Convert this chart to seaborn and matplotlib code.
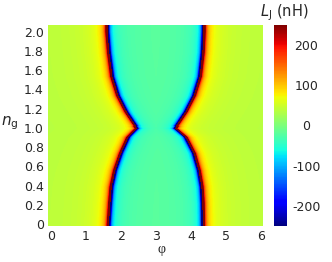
import numpy as np
import pandas as pd
import matplotlib
matplotlib.use("Agg")
import matplotlib.pyplot as plt
import seaborn as sns

# ---- data ----
# gate charge rows where the divergence (pole) positions were read
ng_pts    = [0.00, 0.22, 0.39, 0.56, 0.74, 0.91, 1.00, 1.16, 1.33, 1.53, 1.78, 2.00]
# phase of the left pole (red/blue boundary) and the right pole
phi_left  = [1.65, 1.69, 1.73, 1.83, 2.00, 2.21, 2.45, 2.16, 1.92, 1.75, 1.66, 1.61]
phi_right = [4.33, 4.32, 4.29, 4.21, 4.07, 3.83, 3.54, 3.83, 4.07, 4.24, 4.32, 4.35]
# plateau levels of L_J (nH) outside / inside the poles and pole strengths
L_outside = 32.0
L_inside = -15.0
K_outside = 12.0
K_inside = 8.0

phi_ticks = [0, 1, 2, 3, 4, 5, 6]
ng_ticks = [0, 0.2, 0.4, 0.6, 0.8, 1.0, 1.2, 1.4, 1.6, 1.8, 2.0]
ng_ticklabels = ["0", "0.2", "0.4", "0.6", "0.8", "1.0", "1.2", "1.4", "1.6", "1.8", "2.0"]
cbar_ticks = [-200, -100, 0, 100, 200]
phi_extent = (-0.086, 6.06)
ng_extent = (-0.02, 2.07)
vmin, vmax = -250, 250

# ---- build the map ----
nx, ny = 430, 200
dx = (phi_extent[1] - phi_extent[0]) / nx
dy = (ng_extent[1] - ng_extent[0]) / ny
phi = phi_extent[0] + dx * (np.arange(nx) + 0.5)
ng = ng_extent[0] + dy * (np.arange(ny) + 0.5)
P, G = np.meshgrid(phi, ng)
pL = np.interp(G, ng_pts, phi_left)
pR = np.interp(G, ng_pts, phi_right)
with np.errstate(divide="ignore"):
    L = np.where(P < pL, L_outside + K_outside / np.maximum(pL - P, 1e-6),
        np.where(P > pR, L_outside + K_outside / np.maximum(P - pR, 1e-6),
                 L_inside - K_inside / np.maximum(np.minimum(P - pL, pR - P), 1e-6)))
L = np.clip(L, vmin, vmax)
df = pd.DataFrame(L, index=np.round(ng, 4), columns=np.round(phi, 4))

# ---- figure ----
sns.set_style("white")
plt.rcParams["font.family"] = ["DejaVu Sans"]
plt.rcParams["mathtext.fontset"] = "custom"
plt.rcParams["mathtext.rm"] = "DejaVu Sans"
plt.rcParams["mathtext.it"] = "DejaVu Sans:italic"

W, H = 332, 262
fig = plt.figure(figsize=(W / 100, H / 100), dpi=100)
ax = fig.add_axes([48 / W, 1 - 226 / H, 215 / W, 201 / H])
cax = fig.add_axes([274 / W, 1 - 226 / H, 13 / W, 201 / H])

sns.heatmap(df, ax=ax, cbar_ax=cax, cmap="jet", vmin=vmin, vmax=vmax,
            xticklabels=False, yticklabels=False, rasterized=True)
ax.invert_yaxis()

ax.set_xticks([(v - phi_extent[0]) / dx for v in phi_ticks])
ax.set_xticklabels([str(v) for v in phi_ticks], fontsize=9)
ax.set_yticks([(v - ng_extent[0]) / dy for v in ng_ticks])
ax.set_yticklabels(ng_ticklabels, fontsize=9)
ax.tick_params(axis="both", length=0, pad=3)
for s in ax.spines.values():
    s.set_visible(False)

ax.set_xlabel("φ", fontsize=10, family=["Liberation Serif"])
ax.xaxis.set_label_coords(0.53, -0.085)
ax.set_ylabel(r"$n_\mathrm{g}$", fontsize=11, rotation=0)
ax.yaxis.set_label_coords(-0.178, 0.47)

cax.set_yticks(cbar_ticks)
cax.set_yticklabels([str(v) for v in cbar_ticks], fontsize=9)
cax.tick_params(length=0, pad=14)
for t in cax.get_yticklabels():
    t.set_horizontalalignment("center")
for s in cax.spines.values():
    s.set_visible(False)

fig.text(284 / W, 1 - 13 / H, r"$L_\mathrm{J}$ (nH)", fontsize=10.5, ha="center", va="center")

fig.savefig("out.png", dpi=100)
